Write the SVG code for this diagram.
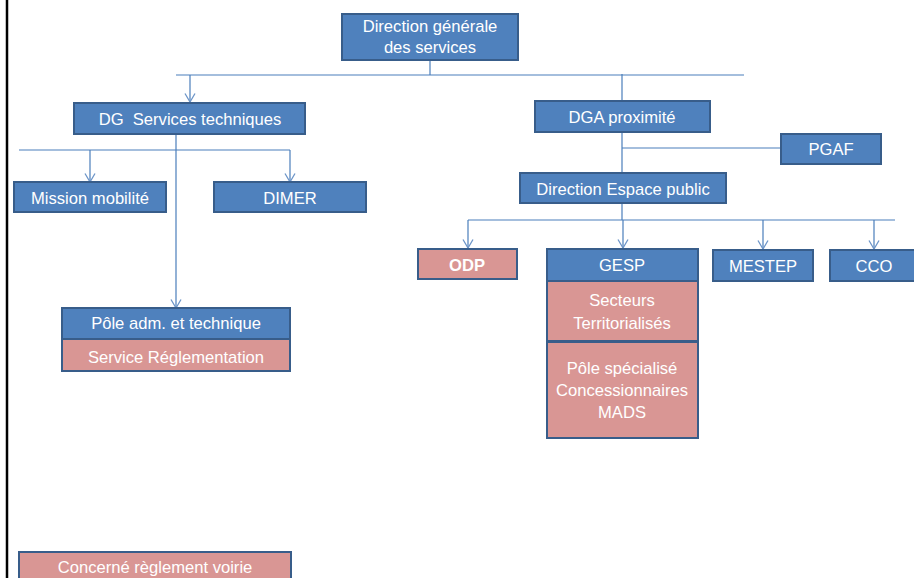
<svg xmlns="http://www.w3.org/2000/svg" width="914" height="578" viewBox="0 0 914 578">
<style>
.b{fill:#4F81BD;stroke:#385D8A;stroke-width:2}
.p{fill:#D99694;stroke:#385D8A;stroke-width:2}
.t{fill:#FFFFFF;font-family:"Liberation Sans",Arial,sans-serif;font-size:16.6px;text-anchor:middle}
.bold{font-weight:bold}
.c{stroke:#4A7EBB;stroke-width:1.2;fill:none}
.a{marker-end:url(#arr)}
</style>
<defs>
<marker id="arr" markerUnits="userSpaceOnUse" markerWidth="12" markerHeight="12" viewBox="0 0 12 12" refX="10" refY="6" orient="auto">
<path d="M1.5,1 L10,6 L1.5,11" fill="none" stroke="#6D95C8" stroke-width="1.3"/>
</marker>
</defs>
<rect x="0" y="0" width="914" height="578" fill="#FFFFFF"/>
<line x1="7" y1="0" x2="7" y2="578" stroke="#000000" stroke-width="2.5"/>
<g id="connectors">
<line class="c" x1="430" y1="60" x2="430" y2="75"/>
<line class="c" x1="176" y1="75" x2="744" y2="75"/>
<line class="c a" x1="190" y1="75" x2="190" y2="102"/>
<line class="c" x1="622" y1="74" x2="622" y2="101"/>
<line class="c a" x1="176" y1="134" x2="176" y2="308"/>
<line class="c" x1="19" y1="150" x2="290" y2="150"/>
<line class="c a" x1="90" y1="150" x2="90" y2="182"/>
<line class="c a" x1="290" y1="150" x2="290" y2="182"/>
<line class="c" x1="622" y1="132" x2="622" y2="173"/>
<line class="c" x1="622" y1="148" x2="781" y2="148"/>
<line class="c" x1="622" y1="203" x2="622" y2="220"/>
<line class="c" x1="468" y1="220" x2="895" y2="220"/>
<line class="c a" x1="468" y1="220" x2="468" y2="248"/>
<line class="c a" x1="623" y1="220" x2="623" y2="248"/>
<line class="c a" x1="763" y1="220" x2="763" y2="249"/>
<line class="c a" x1="874" y1="220" x2="874" y2="249"/>
</g>
<g id="dgs">
<rect class="b" x="342" y="14" width="176" height="46"/>
<text class="t" x="430" y="32">Direction générale</text>
<text class="t" x="430" y="53">des services</text>
</g>
<g id="dgst">
<rect class="b" x="74" y="103" width="231" height="31"/>
<text class="t" x="190" y="125" xml:space="preserve">DG  Services techniques</text>
</g>
<g id="mission">
<rect class="b" x="14" y="182" width="152" height="30"/>
<text class="t" x="90" y="204">Mission mobilité</text>
</g>
<g id="dimer">
<rect class="b" x="214" y="182" width="152" height="30"/>
<text class="t" x="290" y="204">DIMER</text>
</g>
<g id="pole-adm">
<rect class="b" x="62" y="308" width="228" height="31"/>
<text class="t" x="176" y="329">Pôle adm. et technique</text>
<rect class="p" x="62" y="339" width="228" height="32"/>
<text class="t" x="176" y="363">Service Réglementation</text>
</g>
<g id="dga">
<rect class="b" x="535" y="101" width="175" height="31"/>
<text class="t" x="622" y="123">DGA proximité</text>
</g>
<g id="pgaf">
<rect class="b" x="781" y="134" width="100" height="30"/>
<text class="t" x="831" y="155">PGAF</text>
</g>
<g id="dep">
<rect class="b" x="520" y="173" width="206" height="30"/>
<text class="t" x="623" y="195">Direction Espace public</text>
</g>
<g id="odp">
<rect class="p" x="418" y="249" width="99" height="30"/>
<text class="t bold" x="467" y="271">ODP</text>
</g>
<g id="gesp">
<rect class="b" x="547" y="249" width="151" height="32"/>
<text class="t" x="622" y="271">GESP</text>
<rect class="p" x="547" y="281" width="151" height="60"/>
<text class="t" x="622" y="306">Secteurs</text>
<text class="t" x="622" y="329">Territorialisés</text>
<rect class="p" x="547" y="342" width="151" height="96"/>
<text class="t" x="622" y="374">Pôle spécialisé</text>
<text class="t" x="622" y="396">Concessionnaires</text>
<text class="t" x="622" y="418">MADS</text>
</g>
<g id="mestep">
<rect class="b" x="713" y="250" width="100" height="31"/>
<text class="t" x="763" y="272">MESTEP</text>
</g>
<g id="cco">
<rect class="b" x="830" y="250" width="90" height="31"/>
<text class="t" x="874" y="272">CCO</text>
</g>
<g id="legend">
<rect class="p" x="19" y="552" width="272" height="34"/>
<text class="t" x="155" y="573">Concerné règlement voirie</text>
</g>
</svg>
